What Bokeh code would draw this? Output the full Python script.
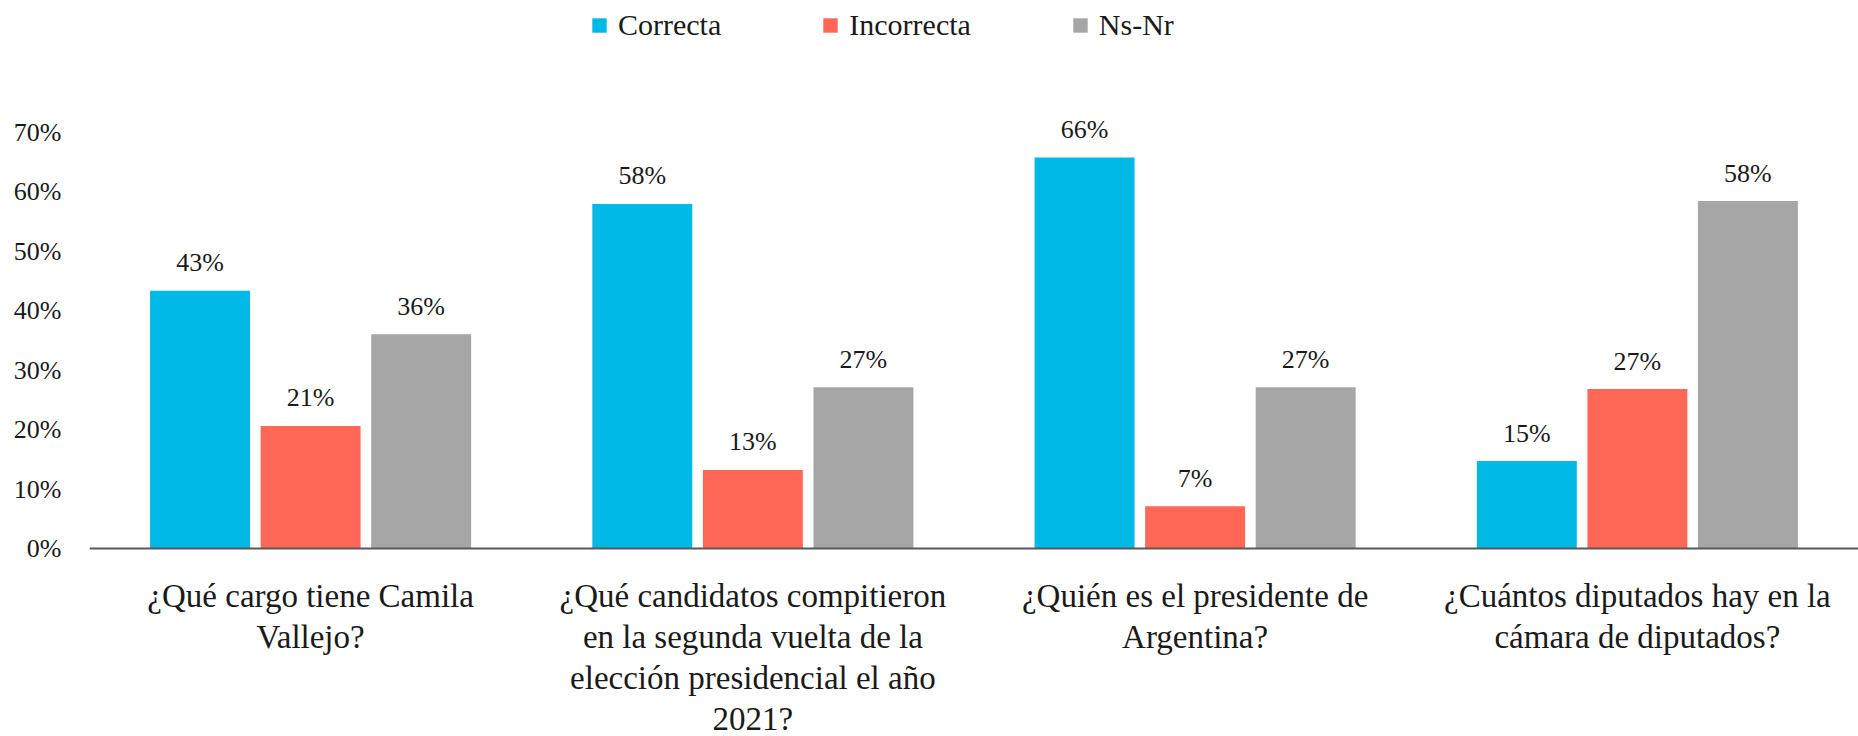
from bokeh.plotting import figure
from bokeh.models import (ColumnDataSource, FactorRange, Range1d, FixedTicker,
                          NumeralTickFormatter, Legend, LegendItem, Span)
from bokeh.transform import dodge
from bokeh.core.properties import value
from bokeh.embed import file_html
from bokeh.resources import INLINE

categories = [
    "¿Qué cargo tiene Camila Vallejo?",
    "¿Qué candidatos compitieron en la segunda vuelta de la elección presidencial el año 2021?",
    "¿Quién es el presidente de Argentina?",
    "¿Cuántos diputados hay en la cámara de diputados?",
]
tick_labels = [
    "¿Qué cargo tiene Camila\nVallejo?",
    "¿Qué candidatos compitieron\nen la segunda vuelta de la\nelección presidencial el año\n2021?",
    "¿Quién es el presidente de\nArgentina?",
    "¿Cuántos diputados hay en la\ncámara de diputados?",
]
series_names = ["Correcta", "Incorrecta", "Ns-Nr"]
correcta = [0.433, 0.579, 0.657, 0.147]
incorrecta = [0.206, 0.132, 0.071, 0.268]
nsnr = [0.360, 0.271, 0.271, 0.584]
y_ticks = [0, 0.1, 0.2, 0.3, 0.4, 0.5, 0.6, 0.7]

colors = ["#00B9E6", "#FF6857", "#A6A6A6"]
FONT = "Liberation Serif"
TEXT_COLOR = "#1a1a1a"

data = {"cat": categories}
for name, vals in zip(series_names, [correcta, incorrecta, nsnr]):
    data[name] = vals
    data[name + "_lbl"] = [f"{round(v * 100):.0f}%" for v in vals]
source = ColumnDataSource(data)

# frame: 0% sits 540px below the top, 5.95px per percentage point
p = figure(
    x_range=FactorRange(*categories, range_padding=0),
    y_range=Range1d(-188 / 595, 540 / 595),
    frame_width=1769, frame_height=728,
    min_border_left=89, min_border_right=0, min_border_top=8, min_border_bottom=0,
    output_backend="svg", toolbar_location=None,
)
p.outline_line_color = None
p.grid.visible = False

offsets = [-0.25, 0.0, 0.25]
items = []
for name, off, col in zip(series_names, offsets, colors):
    r = p.vbar(x=dodge("cat", off, range=p.x_range), top=name, width=0.226,
               source=source, fill_color=col, line_color=None)
    p.text(x=dodge("cat", off, range=p.x_range), y=name, text=name + "_lbl",
           source=source, text_font=value(FONT), text_font_size="26px",
           text_color=TEXT_COLOR, text_align="center", text_baseline="middle",
           y_offset=-28)
    items.append(LegendItem(label=name, renderers=[r]))

legend = Legend(items=items, orientation="horizontal", location=(501, 694),
                glyph_width=18, glyph_height=18, label_standoff=10, spacing=100,
                label_height=34, label_text_baseline="middle",
                label_text_font=FONT, label_text_font_size="30px",
                label_text_color=TEXT_COLOR, border_line_color=None,
                background_fill_alpha=0, padding=0, margin=0)
p.add_layout(legend)

# category axis line
p.add_layout(Span(location=0, dimension="width", line_color="#595959", line_width=2))

p.yaxis.ticker = FixedTicker(ticks=y_ticks)
p.yaxis.formatter = NumeralTickFormatter(format="0%")
p.yaxis.axis_line_color = None
p.yaxis.major_tick_line_color = None
p.yaxis.minor_tick_line_color = None
p.yaxis.major_tick_out = 0
p.yaxis.major_tick_in = 0
p.yaxis.major_label_standoff = 28
p.yaxis.major_label_text_font = FONT
p.yaxis.major_label_text_font_size = "26px"
p.yaxis.major_label_text_color = TEXT_COLOR
p.xaxis.visible = False

# multi-line category labels, one entry per line
lx, ltxt, loff = [], [], []
for cat, lab in zip(categories, tick_labels):
    for i, line in enumerate(lab.split("\n")):
        lx.append(cat)
        ltxt.append(line)
        loff.append(47 + 41.3 * i)
lab_src = ColumnDataSource(dict(x=lx, y=[0] * len(lx), text=ltxt, yo=loff))
p.text(x="x", y="y", text="text", y_offset="yo", source=lab_src,
       text_font=value(FONT), text_font_size="33px", text_color=TEXT_COLOR,
       text_align="center", text_baseline="middle")

open("out.html", "w").write(file_html(p, INLINE))
